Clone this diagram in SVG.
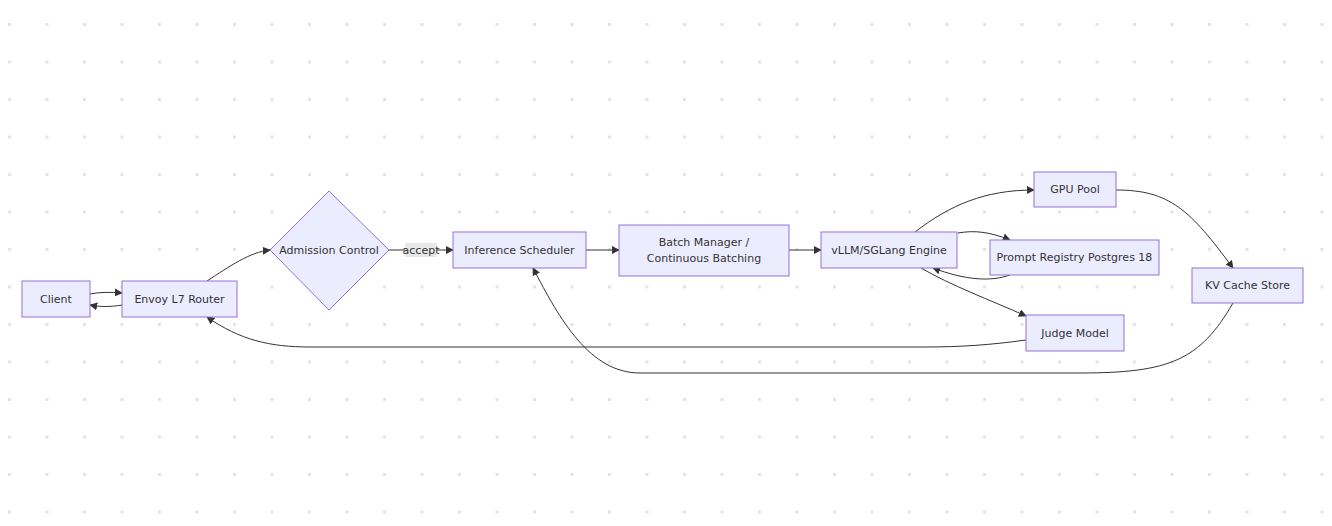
<svg xmlns="http://www.w3.org/2000/svg" width="1332" height="526" viewBox="0 0 1332 526">
<defs>
<pattern id="dots" x="8" y="23" width="37.5" height="37.5" patternUnits="userSpaceOnUse"><rect width="3" height="3" fill="#e3e3e3"/></pattern>
<marker id="arr" viewBox="0 0 10 10" refX="9" refY="5" markerWidth="8" markerHeight="8" orient="auto-start-reverse" markerUnits="userSpaceOnUse"><path d="M0,0 L10,5 L0,10 z" fill="#333"/></marker>
<style>
.n{fill:#ececff;stroke:#9370db;stroke-width:1}
.t{font-family:"DejaVu Sans",sans-serif;font-size:11px;fill:#333;text-anchor:middle;dominant-baseline:central}
.e{fill:none;stroke:#333;stroke-width:1;marker-end:url(#arr)}
</style>
</defs>
<rect width="1332" height="526" fill="#fff"/>
<rect width="1332" height="526" fill="url(#dots)"/>
<g id="connectors">
<path class="e" d="M90,294 C100,292 110,292 122,293"/>
<path class="e" d="M122,305 C110,307 100,307 90,305"/>
<path class="e" d="M207,281 C230,266 250,252 270,250"/>
<path class="e" d="M389,250 L453,250"/>
<rect x="405" y="243" width="32" height="14" fill="#e8e8e8"/>
<text class="t" x="421" y="250">accept</text>
<path class="e" d="M586,250 L619,250"/>
<path class="e" d="M789,250 L821,250"/>
<path class="e" d="M915,232 C950,205 985,190 1034,190"/>
<path class="e" d="M958,233 C975,230 990,232 1010,240"/>
<path class="e" d="M1010,275 C990,282 965,280 933,268"/>
<path class="e" d="M921,268 C950,285 990,300 1026,316"/>
<path class="e" d="M1116,190 C1170,190 1190,210 1233,268"/>
<path class="e" d="M1026,340 C990,345 960,347 925,347 L310,347 C270,347 240,340 207,317"/>
<path class="e" d="M1233,303 C1200,360 1170,373 1080,373 L640,373 C590,373 560,320 533,268"/>
</g>
<g id="client"><rect class="n" x="22" y="281" width="68" height="36"/><text class="t" x="56" y="299">Client</text></g>
<g id="envoy"><rect class="n" x="122" y="281" width="115" height="36"/><text class="t" x="179.5" y="299">Envoy L7 Router</text></g>
<g id="admission"><polygon class="n" points="329,191 389,250 329,310 270,250"/><text class="t" x="329" y="250">Admission Control</text></g>
<g id="scheduler"><rect class="n" x="453" y="232" width="133" height="36"/><text class="t" x="519.5" y="250">Inference Scheduler</text></g>
<g id="batch"><rect class="n" x="619" y="225" width="170" height="51"/><text class="t" x="704" y="242">Batch Manager /</text><text class="t" x="704" y="258">Continuous Batching</text></g>
<g id="vllm"><rect class="n" x="821" y="232" width="136" height="36"/><text class="t" x="889" y="250">vLLM/SGLang Engine</text></g>
<g id="gpu"><rect class="n" x="1034" y="172" width="82" height="35"/><text class="t" x="1075" y="189.5">GPU Pool</text></g>
<g id="prompt"><rect class="n" x="990" y="240" width="169" height="35"/><text class="t" x="1074.5" y="257.5">Prompt Registry Postgres 18</text></g>
<g id="kv"><rect class="n" x="1192" y="268" width="111" height="35"/><text class="t" x="1247.5" y="285.5">KV Cache Store</text></g>
<g id="judge"><rect class="n" x="1026" y="315" width="98" height="36"/><text class="t" x="1075" y="333">Judge Model</text></g>
</svg>
